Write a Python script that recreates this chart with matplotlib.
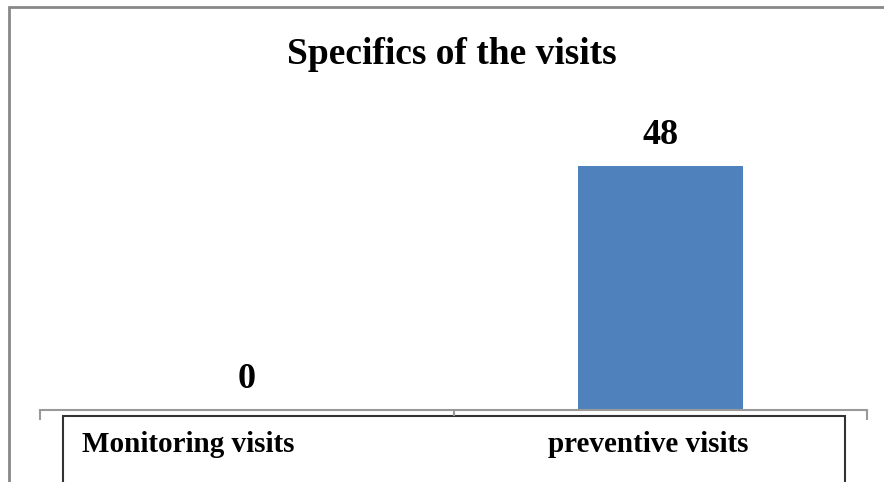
import matplotlib
matplotlib.use("Agg")
import matplotlib.pyplot as plt
from matplotlib.patches import Rectangle

categories = ["Monitoring visits", "preventive visits"]
values = [0, 48]
title = "Specifics of the visits"

plt.rcParams['font.family'] = ['Liberation Serif', 'DejaVu Serif']

W, H = 884, 482
fig = plt.figure(figsize=(W / 100, H / 100), dpi=100)

def fx(px):
    return px / W

def fy(py):
    return 1 - py / H

ax = fig.add_axes([fx(40), fy(410), fx(867) - fx(40), fy(100) - fy(410)])
x = list(range(len(categories)))
bars = ax.bar(x, values, width=0.4, color="#4F81BD", zorder=2)
ax.set_xlim(-0.5, len(categories) - 0.5)
ax.set_ylim(0, 61)

for xi, v in zip(x, values):
    ax.annotate(str(v), (xi, v), xytext=(0, 10), textcoords="offset points",
                ha="center", va="bottom", fontsize=26, fontweight="bold")

for s in ["top", "right", "left"]:
    ax.spines[s].set_visible(False)
ax.spines["bottom"].set_color("#999999")
ax.spines["bottom"].set_linewidth(1.5)
ax.set_yticks([])
ax.set_xticks([])
ax.set_xticks([-0.5, 0.5, 1.5], minor=True)
ax.tick_params(axis="x", which="minor", length=7, width=1.5, color="#999999",
               labelbottom=False)
mt = ax.xaxis.get_minor_ticks()
mt[1].tick1line.set_markersize(4)

# category labels inside the box
label_left_px = [82, 548]
for name, lx in zip(categories, label_left_px):
    fig.text(fx(lx), fy(444), name, ha="left", va="center",
             fontsize=21, fontweight="bold")

# outer border
fig.add_artist(Rectangle((fx(9), fy(H + 10)), fx(W + 10) - fx(9), fy(7) - fy(H + 10),
                         transform=fig.transFigure, fill=False,
                         edgecolor="#888888", linewidth=2, zorder=-1))
# category box
fig.add_artist(Rectangle((fx(63), fy(H + 10)), fx(845) - fx(63), fy(416) - fy(H + 10),
                         transform=fig.transFigure, fill=False,
                         edgecolor="#333333", linewidth=1.5, zorder=-1))

fig.text(fx(452), fy(54), title, ha="center", va="center", fontsize=27, fontweight="bold")

fig.savefig("out.png", dpi=100)
